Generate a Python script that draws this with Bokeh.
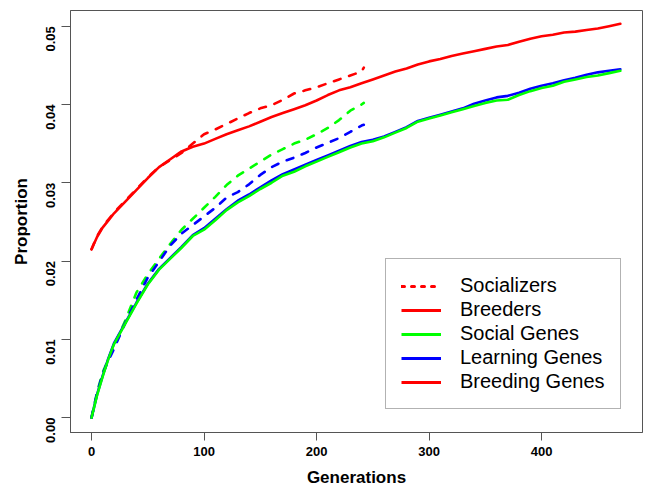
import math
from bokeh.plotting import figure
from bokeh.models import (FixedTicker, PrintfTickFormatter, Legend, LegendItem, Range1d)
from bokeh.embed import file_html
from bokeh.resources import INLINE

# ---- data ----
gens_full = [0, 5, 10, 15, 20, 30, 40, 50, 60, 70, 80, 90,
             100, 110, 120, 130, 140, 150, 160, 170, 180, 190,
             200, 210, 220, 230, 240, 250, 260, 270, 280, 290,
             300, 310, 320, 330, 340, 350, 360, 370, 380, 390,
             400, 410, 420, 430, 440, 450, 460, 470]
gens_short = [0, 5, 10, 15, 20, 30, 40, 50, 60, 70, 80, 90,
              100, 110, 120, 130, 140, 150, 160, 170, 180, 190,
              200, 210, 220, 230, 240, 242]

breeders = [0.0215, 0.0231, 0.0243, 0.0252, 0.0261, 0.0276, 0.0291, 0.0306, 0.0320, 0.0330, 0.0340, 0.0346,
            0.0350, 0.0356, 0.0362, 0.0367, 0.0372, 0.0378, 0.0384, 0.0389, 0.0394, 0.0399,
            0.0405, 0.0412, 0.0418, 0.0422, 0.0427, 0.0432, 0.0437, 0.0442, 0.0446, 0.0451,
            0.0455, 0.0458, 0.0462, 0.0465, 0.0468, 0.0471, 0.0474, 0.0476, 0.0480, 0.0484,
            0.0487, 0.0489, 0.0492, 0.0493, 0.0495, 0.0497, 0.0500, 0.0503]
social_genes = [0.0, 0.0029, 0.0053, 0.0075, 0.0094, 0.0120, 0.0146, 0.0170, 0.0189, 0.0203, 0.0217, 0.0232,
                0.0240, 0.0252, 0.0265, 0.0275, 0.0283, 0.0292, 0.0300, 0.0309, 0.0314, 0.0321,
                0.0327, 0.0333, 0.0339, 0.0345, 0.0350, 0.0353, 0.0358, 0.0364, 0.0370, 0.0378,
                0.0382, 0.0386, 0.0390, 0.0394, 0.0398, 0.0402, 0.0405, 0.0406, 0.0412, 0.0417,
                0.0421, 0.0424, 0.0429, 0.0432, 0.0435, 0.0437, 0.0440, 0.0443]
learning_genes = [0.0, 0.0030, 0.0054, 0.0076, 0.0095, 0.0121, 0.0147, 0.0171, 0.0190, 0.0204, 0.0218, 0.0233,
                  0.0242, 0.0254, 0.0266, 0.0277, 0.0285, 0.0294, 0.0303, 0.0311, 0.0317, 0.0323,
                  0.0329, 0.0335, 0.0341, 0.0347, 0.0352, 0.0355, 0.0359, 0.0365, 0.0371, 0.0379,
                  0.0383, 0.0387, 0.0391, 0.0395, 0.0401, 0.0405, 0.0409, 0.0411, 0.0415, 0.0420,
                  0.0424, 0.0427, 0.0431, 0.0434, 0.0438, 0.0441, 0.0443, 0.0445]

socializers = [0.0215, 0.0232, 0.0244, 0.0253, 0.0262, 0.0277, 0.0292, 0.0307, 0.0320, 0.0329, 0.0338, 0.0350,
               0.0362, 0.0368, 0.0375, 0.0382, 0.0389, 0.0395, 0.0399, 0.0406, 0.0414, 0.0418,
               0.0422, 0.0427, 0.0432, 0.0437, 0.0442, 0.0447]
social_genes_soc = [0.0, 0.0033, 0.0058, 0.0075, 0.0091, 0.0124, 0.0160, 0.0183, 0.0203, 0.0222, 0.0240, 0.0254,
                    0.0268, 0.0282, 0.0297, 0.0309, 0.0318, 0.0327, 0.0336, 0.0343, 0.0350, 0.0355,
                    0.0362, 0.0370, 0.0380, 0.0392, 0.0400, 0.0402]
learning_genes_soc = [0.0, 0.0032, 0.0056, 0.0073, 0.0088, 0.0121, 0.0151, 0.0179, 0.0199, 0.0220, 0.0235, 0.0246,
                      0.0257, 0.0268, 0.0281, 0.0288, 0.0298, 0.0310, 0.0320, 0.0327, 0.0332, 0.0338,
                      0.0345, 0.0351, 0.0357, 0.0365, 0.0373, 0.0374]

x_ticks = [0, 100, 200, 300, 400]
y_ticks = [0.0, 0.01, 0.02, 0.03, 0.04, 0.05]
legend_labels = ["Socializers", "Breeders", "Social Genes", "Learning Genes", "Breeding Genes"]

RED, GREEN, BLUE = "#FF0000", "#00FF00", "#0000FF"
FONT = "Liberation Sans"
LW = 2.6
DASH = "7 9"

p = figure(width=646, height=489, output_backend="svg", toolbar_location=None,
           x_range=Range1d(-18.7, 489.7), y_range=Range1d(-0.0019, 0.0520),
           min_border_left=70, min_border_right=4, min_border_top=10, min_border_bottom=57)
p.background_fill_color = "white"
p.border_fill_color = "white"
p.outline_line_color = "#555555"
p.outline_line_width = 1
p.xgrid.visible = False
p.ygrid.visible = False

# dashed lines
p.line(gens_short, socializers, line_color=RED, line_width=LW, line_dash=DASH, line_cap="round")
p.line(gens_short, social_genes_soc, line_color=GREEN, line_width=LW, line_dash=DASH, line_cap="round")
p.line(gens_short, learning_genes_soc, line_color=BLUE, line_width=LW, line_dash=DASH, line_cap="round")
# solid lines
r_breed = p.line(gens_full, breeders, line_color=RED, line_width=LW, line_cap="round")
r_learn = p.line(gens_full, learning_genes, line_color=BLUE, line_width=LW, line_cap="round")
r_soc = p.line(gens_full, social_genes, line_color=GREEN, line_width=LW, line_cap="round")

# legend sample renderers (placed outside the visible range)
off_x = [-1000, -999]
off_y = [-1.0, -1.0]
d_soc = p.line(off_x, off_y, line_color=RED, line_width=3, line_dash="3 7", line_cap="round")
d_breed = p.line(off_x, off_y, line_color=RED, line_width=3)
d_sg = p.line(off_x, off_y, line_color=GREEN, line_width=3)
d_lg = p.line(off_x, off_y, line_color=BLUE, line_width=3)
d_bg = p.line(off_x, off_y, line_color=RED, line_width=3)

legend = Legend(items=[LegendItem(label=legend_labels[0], renderers=[d_soc]),
                       LegendItem(label=legend_labels[1], renderers=[d_breed]),
                       LegendItem(label=legend_labels[2], renderers=[d_sg]),
                       LegendItem(label=legend_labels[3], renderers=[d_lg]),
                       LegendItem(label=legend_labels[4], renderers=[d_bg])],
                location=(315, 23), orientation="vertical")
legend.label_text_font = FONT
legend.label_text_font_size = "20px"
legend.label_text_color = "black"
legend.label_height = 22
legend.glyph_height = 22
legend.glyph_width = 40
legend.label_width = 145
legend.label_standoff = 19
legend.spacing = 1
legend.padding = 15
legend.margin = 0
legend.border_line_color = "#666666"
legend.border_line_width = 1
legend.background_fill_color = "white"
legend.background_fill_alpha = 1.0
p.add_layout(legend, "center")

# axes
p.xaxis.ticker = FixedTicker(ticks=x_ticks)
p.yaxis.ticker = FixedTicker(ticks=y_ticks)
p.yaxis.formatter = PrintfTickFormatter(format="%.2f")
for ax in (p.xaxis[0], p.yaxis[0]):
    ax.axis_line_color = "#555555"
    ax.major_tick_line_color = "#555555"
    ax.major_tick_out = 8
    ax.major_tick_in = 0
    ax.minor_tick_out = 0
    ax.minor_tick_in = 0
    ax.major_label_text_font = FONT
    ax.major_label_text_font_style = "bold"
    ax.major_label_text_font_size = "13px"
    ax.major_label_text_color = "black"
    ax.axis_label_text_font = FONT
    ax.axis_label_text_font_style = "bold"
    ax.axis_label_text_font_size = "17px"
    ax.axis_label_text_color = "black"
p.xaxis.axis_label = "Generations"
p.yaxis.axis_label = "Proportion"
p.xaxis.major_label_standoff = 6
p.xaxis.axis_label_standoff = 9
p.yaxis.major_tick_out = 9
p.yaxis.major_label_standoff = 11
p.yaxis.axis_label_standoff = 8
p.yaxis.major_label_orientation = math.pi / 2

open("out.html", "w").write(file_html(p, INLINE))
